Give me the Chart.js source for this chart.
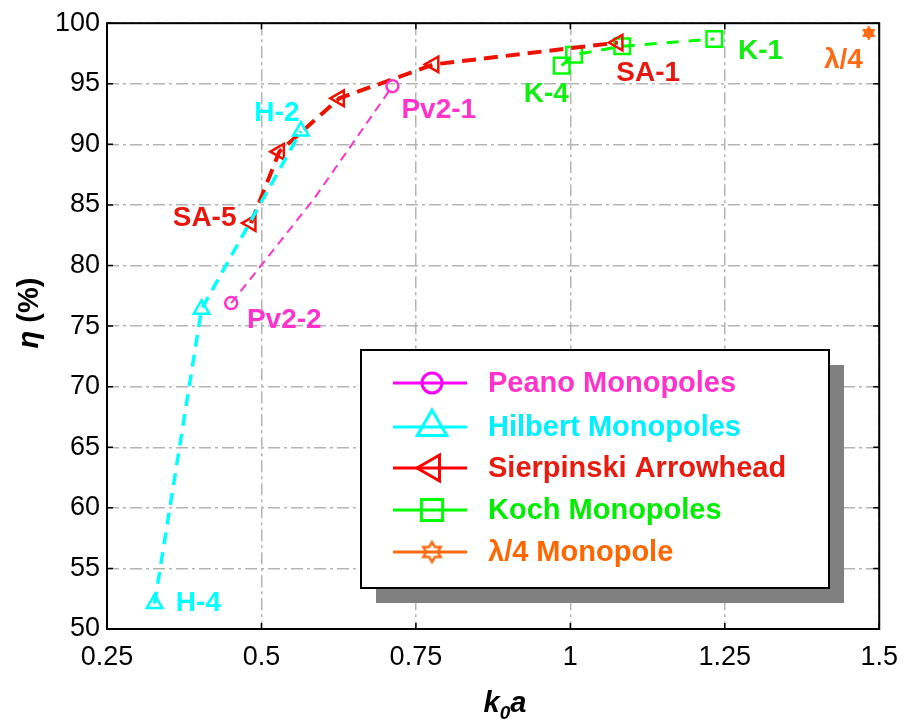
<!DOCTYPE html>
<html>
<head>
<meta charset="utf-8">
<script src="https://cdn.jsdelivr.net/npm/chart.js@4.4.1/dist/chart.umd.min.js"></script>
<style>
  html, body { margin: 0; padding: 0; background: #fff; }
  #wrap { width: 910px; height: 724px; position: relative; }
</style>
</head>
<body>
<div id="wrap"><canvas id="chart"></canvas></div>
<script>
// ─── DATA ───────────────────────────────────────────────────────
const xTicks = [0.25, 0.5, 0.75, 1, 1.25, 1.5];
const xTickLabels = ["0.25", "0.5", "0.75", "1", "1.25", "1.5"];
const yTicks = [50, 55, 60, 65, 70, 75, 80, 85, 90, 95, 100];

const seriesNames = ["Peano Monopoles", "Hilbert Monopoles", "Sierpinski Arrowhead", "Koch Monopoles", "\u03bb/4 Monopole"];

const peanoX = [0.451, 0.585, 0.712];
const peanoY = [76.9, 85.5, 94.8];
const peanoMarks = [true, false, true];

const hilbertX = [0.327, 0.403, 0.564];
const hilbertY = [52.1, 76.4, 91.1];

const sierpX = [0.483, 0.529, 0.626, 0.779, 1.077];
const sierpY = [83.5, 89.4, 93.8, 96.6, 98.4];

const kochX = [0.986, 1.006, 1.084, 1.233];
const kochY = [96.5, 97.4, 98.1, 98.7];

const quarterX = [1.483];
const quarterY = [99.2];

// point annotations
const noteText  = ["H-2", "Pv2-1", "SA-5", "Pv2-2", "H-4", "K-4", "SA-1", "K-1", "\u03bb/4"];
const noteX     = [0.525, 0.787, 0.408, 0.537, 0.398, 0.961, 1.126, 1.308, 1.442];
const noteY     = [92.6, 92.8, 83.9, 75.5, 52.1, 94.1, 95.9, 97.7, 96.9];
const noteColor = ["#00ffff", "#ff33cc", "#e8170e", "#ff33cc", "#00ffff", "#11ee11", "#e8170e", "#11ee11", "#ff6a13"];

// ─── COLOURS ────────────────────────────────────────────────────
const COL = {
  peano:   "#ff33cc",
  hilbert: "#00ffff",
  sierp:   "#ee1100",
  koch:    "#00ff00",
  quarter: "#ff6a13",
};
const textCol = ["#ff33cc", "#00f0ff", "#e81b0e", "#00ee00", "#ff6600"];
const FONT = "'Liberation Sans', Arial, sans-serif";

Chart.defaults.font.family = FONT;
Chart.defaults.color = "#000";

function pts(xs, ys) { return xs.map((x, i) => ({ x, y: ys[i] })); }

// six-point star used for the λ/4 marker
function hexagram(r, color, filled, lw) {
  const c = document.createElement("canvas");
  const s = Math.ceil(2 * r + 2 * lw + 2);
  c.width = s; c.height = s;
  const g = c.getContext("2d");
  g.translate(s / 2, s / 2);
  g.beginPath();
  for (let k = 0; k < 12; k++) {
    const a = (-90 + k * 30) * Math.PI / 180;
    const rr = k % 2 === 0 ? r : r / Math.sqrt(3);
    const px = rr * Math.cos(a), py = rr * Math.sin(a);
    k === 0 ? g.moveTo(px, py) : g.lineTo(px, py);
  }
  g.closePath();
  if (filled) { g.fillStyle = color; g.fill(); }
  g.lineWidth = lw; g.strokeStyle = color; g.lineJoin = "miter"; g.stroke();
  return c;
}
const starPlot = hexagram(7, COL.quarter, true, 1);
const starLegend = hexagram(10, COL.quarter, false, 2.5);

// ─── PLUGIN: frame, ticks, titles, notes, legend ────────────────
const decor = {
  id: "decor",
  afterDraw(chart) {
    const { ctx, chartArea: a, scales: { x, y } } = chart;
    ctx.save();

    // frame
    ctx.strokeStyle = "#000";
    ctx.lineWidth = 2;
    ctx.strokeRect(a.left, a.top, a.right - a.left, a.bottom - a.top);

    // inward tick marks on all four sides
    ctx.lineWidth = 1.5;
    ctx.beginPath();
    xTicks.forEach(v => {
      const px = x.getPixelForValue(v);
      ctx.moveTo(px, a.bottom); ctx.lineTo(px, a.bottom - 6);
      ctx.moveTo(px, a.top); ctx.lineTo(px, a.top + 6);
    });
    yTicks.forEach(v => {
      const py = y.getPixelForValue(v);
      ctx.moveTo(a.left, py); ctx.lineTo(a.left + 6, py);
      ctx.moveTo(a.right, py); ctx.lineTo(a.right - 6, py);
    });
    ctx.stroke();

    // y title: η (%)
    ctx.fillStyle = "#000";
    ctx.textBaseline = "alphabetic";
    ctx.save();
    ctx.translate(38, 313);
    ctx.rotate(-Math.PI / 2);
    ctx.font = "italic bold 29px " + FONT;
    const w1 = ctx.measureText("\u03b7").width;
    ctx.font = "bold 29px " + FONT;
    const w2 = ctx.measureText(" (%)").width;
    let sx = -(w1 + w2) / 2;
    ctx.font = "italic bold 29px " + FONT;
    ctx.fillText("\u03b7", sx, 0);
    ctx.font = "bold 29px " + FONT;
    ctx.fillText(" (%)", sx + w1, 0);
    ctx.restore();

    // x title: k0a
    ctx.font = "italic bold 29px " + FONT;
    const wk = ctx.measureText("k").width, wa = ctx.measureText("a").width;
    ctx.font = "italic bold 19px " + FONT;
    const w0 = ctx.measureText("0").width;
    let tx = 505 - (wk + w0 + wa) / 2;
    ctx.font = "italic bold 29px " + FONT;
    ctx.fillText("k", tx, 712);
    ctx.font = "italic bold 19px " + FONT;
    ctx.fillText("0", tx + wk, 719);
    ctx.font = "italic bold 29px " + FONT;
    ctx.fillText("a", tx + wk + w0, 712);

    // annotations
    ctx.font = "bold 28px " + FONT;
    ctx.textAlign = "center";
    ctx.textBaseline = "middle";
    noteText.forEach((t, i) => {
      ctx.fillStyle = noteColor[i];
      ctx.fillText(t, x.getPixelForValue(noteX[i]), y.getPixelForValue(noteY[i]));
    });

    // legend box with shadow
    const L = { x: 361, y: 350, w: 468, h: 238 };
    ctx.fillStyle = "#808080";
    ctx.fillRect(L.x + 15, L.y + 15, L.w, L.h);
    ctx.fillStyle = "#fff";
    ctx.fillRect(L.x, L.y, L.w, L.h);
    ctx.strokeStyle = "#000";
    ctx.lineWidth = 2;
    ctx.strokeRect(L.x, L.y, L.w, L.h);

    const rows = [383, 427, 468, 510, 552];
    const marks = [
      { pointStyle: "circle", radius: 10, rotation: 0 },
      { pointStyle: "triangle", radius: 17, rotation: 0 },
      { pointStyle: "triangle", radius: 15, rotation: -90 },
      { pointStyle: "rect", radius: 15, rotation: 0 },
      { pointStyle: starLegend, radius: 10, rotation: 0 },
    ];
    const lineCols = ["#ff00ff", "#00ffff", "#ff0000", "#00ff00", "#ff6a13"];
    ctx.textAlign = "left";
    ctx.font = "bold 29px " + FONT;
    seriesNames.forEach((name, i) => {
      const ry = rows[i];
      ctx.strokeStyle = lineCols[i];
      ctx.lineWidth = 3;
      ctx.setLineDash([]);
      ctx.beginPath();
      ctx.moveTo(393, ry); ctx.lineTo(467, ry);
      ctx.stroke();
      ctx.fillStyle = "rgba(0,0,0,0)";
      ctx.lineWidth = 3;
      Chart.helpers.drawPoint(ctx, { ...marks[i], borderWidth: 3 }, 432, ry);
      ctx.fillStyle = textCol[i];
      ctx.fillText(name, 488, ry + 1);
    });

    ctx.restore();
  },
};

// ─── CHART ──────────────────────────────────────────────────────
const common = {
  showLine: true,
  pointBackgroundColor: "rgba(0,0,0,0)",
  pointBorderWidth: 2.5,
  clip: false,
};

new Chart(document.getElementById("chart"), {
  type: "scatter",
  data: {
    datasets: [
      {
        ...common, label: seriesNames[0], data: pts(peanoX, peanoY),
        borderColor: COL.peano, pointBorderColor: COL.peano,
        borderWidth: 2, borderDash: [9, 6],
        pointStyle: "circle", pointRadius: peanoMarks.map(m => (m ? 6 : 0)),
      },
      {
        ...common, label: seriesNames[1], data: pts(hilbertX, hilbertY),
        borderColor: COL.hilbert, pointBorderColor: COL.hilbert,
        borderWidth: 3.5, borderDash: [12, 8],
        pointStyle: "triangle", pointRadius: 9,
      },
      {
        ...common, label: seriesNames[2], data: pts(sierpX, sierpY),
        borderColor: COL.sierp, pointBorderColor: COL.sierp,
        borderWidth: 4, borderDash: [14, 8],
        pointStyle: "triangle", pointRotation: -90, pointRadius: 9,
      },
      {
        ...common, label: seriesNames[3], data: pts(kochX, kochY),
        borderColor: COL.koch, pointBorderColor: COL.koch,
        borderWidth: 3, borderDash: [12, 10],
        pointStyle: "rect", pointRadius: 11,
      },
      {
        ...common, label: seriesNames[4], data: pts(quarterX, quarterY),
        borderColor: COL.quarter, pointBorderColor: COL.quarter,
        pointStyle: starPlot, pointRadius: 7,
      },
    ],
  },
  options: {
    responsive: true,
    maintainAspectRatio: false,
    animation: false,
    layout: { padding: { left: 0, top: 21, right: 30, bottom: 0 } },
    plugins: { legend: { display: false }, tooltip: { enabled: false } },
    scales: {
      x: {
        type: "linear", min: 0.25, max: 1.5,
        afterBuildTicks: s => { s.ticks = xTicks.map(v => ({ value: v })); },
        afterFit: s => { s.height = 95; },
        grid: { color: "#b4b4b4", lineWidth: 1.5, drawTicks: false },
        border: { display: false, dash: [12, 4, 3, 4] },
        ticks: {
          font: { size: 27 }, color: "#000", padding: 12, maxRotation: 0,
          callback: (v, i) => xTickLabels[i],
        },
      },
      y: {
        type: "linear", min: 50, max: 100,
        afterBuildTicks: s => { s.ticks = yTicks.map(v => ({ value: v })); },
        afterFit: s => { s.width = 107; },
        grid: { color: "#b4b4b4", lineWidth: 1.5, drawTicks: false },
        border: { display: false, dash: [12, 4, 3, 4] },
        ticks: { font: { size: 27 }, color: "#000", padding: 7 },
      },
    },
  },
  plugins: [decor],
});
</script>
</body>
</html>
